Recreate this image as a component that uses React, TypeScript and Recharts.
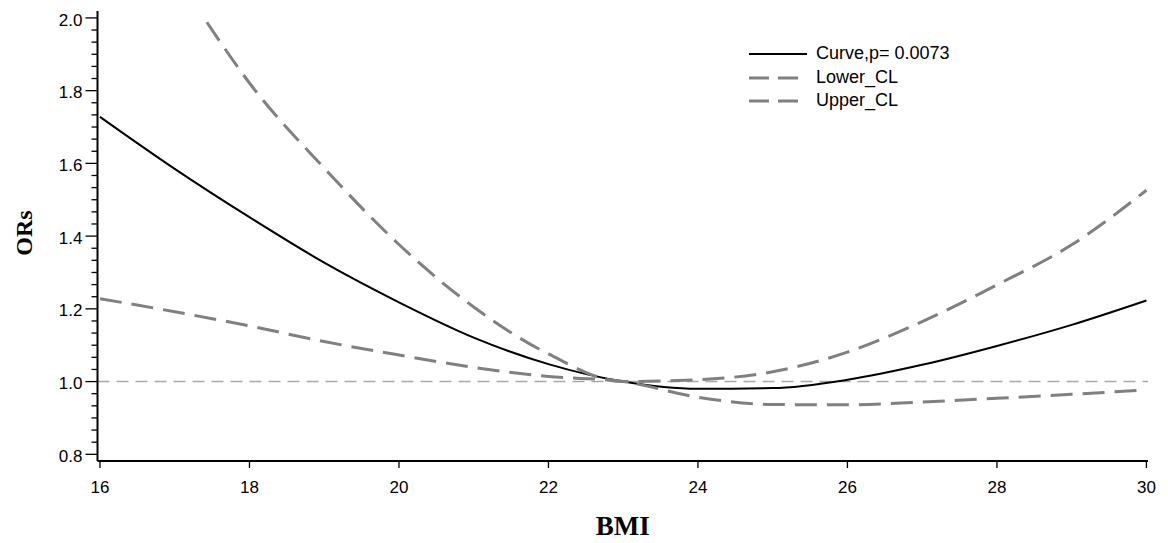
import React from 'react';
import { LineChart, Line, XAxis, YAxis, ReferenceLine, Legend } from 'recharts';

// ---- data ----
const bmiGrid = [16, 17, 18, 19, 20, 21, 22, 23, 24, 25, 26, 27, 28, 29, 30];
const curveOR = [1.728, 1.585, 1.452, 1.327, 1.218, 1.121, 1.048, 1.0, 0.98, 0.982, 1.005, 1.046, 1.098, 1.156, 1.223];
const lowerCL = [1.228, 1.192, 1.153, 1.11, 1.073, 1.039, 1.014, 1.0, 0.957, 0.937, 0.936, 0.944, 0.954, 0.965, 0.977];
const upperBmi = [17.43, 18, 19, 20, 21, 22, 23, 24, 25, 26, 27, 28, 29, 30];
const upperCL = [1.988, 1.821, 1.587, 1.377, 1.205, 1.076, 1.0, 1.005, 1.027, 1.081, 1.165, 1.266, 1.376, 1.526];

const xTicks = [16, 18, 20, 22, 24, 26, 28, 30];
const yMajorTicks = [0.8, 1.0, 1.2, 1.4, 1.6, 1.8, 2.0];
const refOR = 1.0;

const seriesNames = ['Curve,p= 0.0073', 'Lower_CL', 'Upper_CL'];

// ---- tables built from the arrays ----
const curveData = bmiGrid.map((b, i) => ({ bmi: b, value: curveOR[i] }));
const lowerData = bmiGrid.map((b, i) => ({ bmi: b, value: lowerCL[i] }));
const upperData = upperBmi.map((b, i) => ({ bmi: b, value: upperCL[i] }));

const MINOR_DIV = 6;
const yTicks: number[] = [];
yMajorTicks.forEach((t, i) => {
  yTicks.push(t);
  if (i < yMajorTicks.length - 1) {
    const step = (yMajorTicks[i + 1] - t) / MINOR_DIV;
    for (let k = 1; k < MINOR_DIV; k++) yTicks.push(t + step * k);
  }
});

const SANS = '"Liberation Sans", Arial, Helvetica, sans-serif';
const SERIF = '"Liberation Serif", "Times New Roman", serif';
const GRAY = '#808080';

const styles: Record<string, { stroke: string; width: number; dash?: string; legendDash?: string }> = {
  'Curve,p= 0.0073': { stroke: '#000000', width: 2 },
  Lower_CL: { stroke: GRAY, width: 3, dash: '22 10', legendDash: '20 9' },
  Upper_CL: { stroke: GRAY, width: 3, dash: '22 10', legendDash: '20 9' },
};

const X_DOMAIN: [number, number] = [15.967, 30.021];
const Y_DOMAIN: [number, number] = [0.7816, 2.019];

const YTick = (props: any) => {
  const { x, y, payload } = props;
  const v = payload.value as number;
  const major = Math.abs(v * 5 - Math.round(v * 5)) < 1e-6;
  return (
    <g>
      <line x1={x - (major ? 12 : 6)} x2={x} y1={y} y2={y} stroke="#000" strokeWidth={1.3} />
      {major && (
        <text x={x - 15} y={y} dy="0.45em" textAnchor="end" fontSize={17} fontFamily={SANS} fill="#000">
          {v.toFixed(1)}
        </text>
      )}
    </g>
  );
};

const LegendContent = () => (
  <div style={{ fontFamily: SANS, fontSize: 18, color: '#000' }}>
    {seriesNames.map((n) => {
      const s = styles[n];
      return (
        <div key={n} style={{ display: 'flex', alignItems: 'center', height: 23.7 }}>
          <svg width={58} height={6} style={{ display: 'block' }}>
            <line x1={0} x2={58} y1={3} y2={3} stroke={s.stroke} strokeWidth={s.width} strokeDasharray={s.legendDash} />
          </svg>
          <span style={{ marginLeft: 9, lineHeight: '23.7px', whiteSpace: 'nowrap' }}>{n}</span>
        </div>
      );
    })}
  </div>
);

export default function App() {
  return (
    <div style={{ position: 'absolute', left: 0, top: 0, width: 1168, height: 543, background: '#fff' }}>
      <LineChart width={1168} height={543} margin={{ top: 11, right: 20, bottom: 0, left: 0 }}>
        <XAxis
          dataKey="bmi"
          type="number"
          domain={X_DOMAIN}
          allowDataOverflow
          ticks={xTicks}
          interval={0}
          height={82}
          tickSize={7}
          tickMargin={13}
          axisLine={{ stroke: '#000', strokeWidth: 2 }}
          tickLine={{ stroke: '#000', strokeWidth: 1.3 }}
          tick={{ fontSize: 17, fontFamily: SANS, fill: '#000' }}
          label={{
            content: (p: any) => {
              const vb = p.viewBox || {};
              return (
                <text x={vb.x + vb.width / 2} y={535} textAnchor="middle" fontSize={27} fontWeight="bold" fontFamily={SERIF} fill="#000">
                  BMI
                </text>
              );
            },
          }}
        />
        <XAxis
          xAxisId="top"
          orientation="top"
          dataKey="bmi"
          type="number"
          domain={X_DOMAIN}
          allowDataOverflow
          height={0}
          tick={false}
          tickLine={false}
          axisLine={{ stroke: '#000', strokeWidth: 2 }}
        />
        <YAxis
          type="number"
          domain={Y_DOMAIN}
          allowDataOverflow
          ticks={yTicks}
          interval={0}
          width={97.5}
          tickSize={0}
          tickMargin={0}
          tickLine={false}
          axisLine={{ stroke: '#000', strokeWidth: 2 }}
          tick={<YTick />}
          label={{
            content: () => {
              const cx = 31.5;
              const cy = 233;
              return (
                <text x={cx} y={cy} transform={`rotate(-90, ${cx}, ${cy})`} textAnchor="middle" fontSize={24} fontWeight="bold" fontFamily={SERIF} fill="#000">
                  ORs
                </text>
              );
            },
          }}
        />
        <YAxis
          yAxisId="right"
          orientation="right"
          type="number"
          domain={Y_DOMAIN}
          allowDataOverflow
          width={0}
          tick={false}
          tickLine={false}
          axisLine={{ stroke: '#000', strokeWidth: 2 }}
        />
        <ReferenceLine y={refOR} stroke="#a8a8a8" strokeWidth={1.5} strokeDasharray="12 7" />
        <Line
          data={curveData}
          dataKey="value"
          name={seriesNames[0]}
          type="monotone"
          stroke={styles[seriesNames[0]].stroke}
          strokeWidth={styles[seriesNames[0]].width}
          dot={false}
          activeDot={false}
          isAnimationActive={false}
        />
        <Line
          data={lowerData}
          dataKey="value"
          name={seriesNames[1]}
          type="monotone"
          stroke={styles[seriesNames[1]].stroke}
          strokeWidth={styles[seriesNames[1]].width}
          strokeDasharray={styles[seriesNames[1]].dash}
          dot={false}
          activeDot={false}
          isAnimationActive={false}
        />
        <Line
          data={upperData}
          dataKey="value"
          name={seriesNames[2]}
          type="monotone"
          stroke={styles[seriesNames[2]].stroke}
          strokeWidth={styles[seriesNames[2]].width}
          strokeDasharray={styles[seriesNames[2]].dash}
          dot={false}
          activeDot={false}
          isAnimationActive={false}
        />
        <Legend
          layout="vertical"
          align="center"
          verticalAlign="middle"
          content={<LegendContent />}
          wrapperStyle={{ position: 'absolute', left: 749, top: 42, width: 260, height: 72 }}
        />
      </LineChart>
    </div>
  );
}
